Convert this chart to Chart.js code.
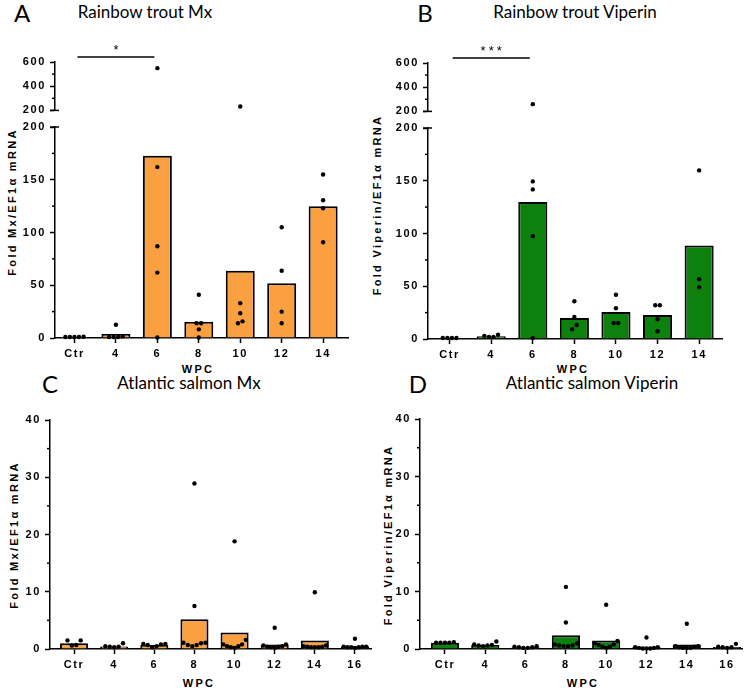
<!DOCTYPE html>
<html>
<head>
<meta charset="utf-8">
<script src="https://cdn.jsdelivr.net/npm/chart.js@4.4.1/dist/chart.umd.min.js"></script>
<style>
  body { margin: 0; background: #fff; }
  #page { position: relative; width: 750px; height: 690px; overflow: hidden; background: #fff; }
  .box { position: absolute; }
  .box canvas { letter-spacing: 1.6px; }
  .txt { position: absolute; white-space: nowrap; transform: translate(-50%, -50%); color: #000; }
  .letter { font: 24px Lato, sans-serif; }
  .title { font: 17px Lato, sans-serif; }
  .wpc { font: bold 11px 'Liberation Sans', Arial, sans-serif; letter-spacing: 2.3px; }
  .ytitle { position: absolute; white-space: nowrap; color: #000;
            font: bold 11px 'Liberation Sans', Arial, sans-serif; letter-spacing: 2.3px;
            transform: translate(-50%, -50%) rotate(-90deg); }
</style>
</head>
<body>
<div id="page">
  <div class="txt letter" style="left:22px;top:12px">A</div>
  <div class="txt title" style="left:145px;top:11px">Rainbow trout Mx</div>
  <div class="txt letter" style="left:425px;top:12px">B</div>
  <div class="txt title" style="left:575px;top:11px">Rainbow trout Viperin</div>
  <div class="txt letter" style="left:50px;top:383px">C</div>
  <div class="txt title" style="left:189px;top:382px">Atlantic salmon Mx</div>
  <div class="txt letter" style="left:418px;top:383px">D</div>
  <div class="txt title" style="left:592px;top:382px">Atlantic salmon Viperin</div>

  <div class="ytitle" style="left:12px;top:202px">Fold Mx/EF1α mRNA</div>
  <div class="ytitle" style="left:377px;top:205px">Fold Viperin/EF1α mRNA</div>
  <div class="ytitle" style="left:14px;top:535px">Fold Mx/EF1α mRNA</div>
  <div class="ytitle" style="left:388px;top:535px">Fold Viperin/EF1α mRNA</div>

  <div class="txt wpc" style="left:198px;top:369px">WPC</div>
  <div class="txt wpc" style="left:573px;top:369px">WPC</div>
  <div class="txt wpc" style="left:199px;top:683px">WPC</div>
  <div class="txt wpc" style="left:583px;top:683px">WPC</div>

  <div class="box" id="a1"></div>
  <div class="box" id="a2"></div>
  <div class="box" id="b1"></div>
  <div class="box" id="b2"></div>
  <div class="box" id="c"></div>
  <div class="box" id="d"></div>
</div>

<script>
// weeks post challenge
const troutWeeks = ['Ctr', '4', '6', '8', '10', '12', '14'];
const salmonWeeks = ['Ctr', '4', '6', '8', '10', '12', '14', '16'];

// bars = group mean, dots = single fish
const troutMxBars = [1, 3.8, 172.8, 15.5, 63.8, 52, 124.8];
const troutMxDots = [
  [1.2, 1, 0.9, 1, 0.9],
  [12.5, 1.5, 1, 1, 1],
  [549, 162, 87, 62, 0.5],
  [41, 14, 14, 8.2, 0.5],
  [232, 33, 23.4, 15.8, 14],
  [105, 63.8, 25, 14],
  [155, 130.5, 123, 90.7]
];

const troutViperinBars = [1, 2.5, 129.8, 20, 25.6, 22.8, 88.6];
const troutViperinDots = [
  [1, 1, 1, 1],
  [4, 2, 2, 3],
  [260, 149.4, 141.8, 97.5, 1],
  [35.8, 20.9, 13.3, 9.2],
  [42, 29.1, 15.2, 15.2],
  [32, 32, 18.7, 7.3],
  [159.8, 56.7, 49]
];

const salmonMxBars = [1.0, 0.45, 0.7, 5.2, 2.9, 0.8, 1.5, 0.5];
const salmonMxDots = [
  [1.5, 1.5, 0.7, 0.6],
  [1.0, 0.5, 0.4, 0.4, 0.3],
  [0.9, 0.9, 0.8, 0.7, 0.5, 0.3],
  [28.9, 7.5, 1.1, 1.1, 1.0, 0.7, 0.5, 0.7],
  [18.8, 1.6, 0.8, 0.5, 0.3, 0.2, 0.5, 0.8],
  [3.7, 0.8, 0.6, 0.5, 0.4, 0.4, 0.3, 0.2],
  [9.9, 0.6, 0.4, 0.3, 0.3, 0.3, 0.4, 0.5],
  [1.8, 0.4, 0.4, 0.4, 0.3, 0.3, 0.3, 0.2]
];

const salmonViperinBars = [1.1, 0.7, 0.3, 2.4, 1.5, 0.4, 0.8, 0.35];
const salmonViperinDots = [
  [1.1, 1.1, 1.1, 1.1, 1.2],
  [1.3, 0.8, 0.6, 0.6, 0.7, 0.5],
  [0.5, 0.4, 0.3, 0.3, 0.2, 0.2],
  [10.8, 4.6, 0.8, 0.6, 0.5, 0.5, 0.6, 1.0],
  [7.7, 1.4, 1.0, 0.7, 0.4, 0.4, 0.8, 0.2],
  [2.0, 0.3, 0.3, 0.2, 0.2, 0.1, 0.1, 0.1],
  [4.4, 0.5, 0.5, 0.4, 0.3, 0.2, 0.2, 0.2],
  [0.9, 0.4, 0.3, 0.3, 0.2]
];

const ORANGE = '#FBA040';
const GREEN = '#0E800E';
const FONT = "'Liberation Sans', Arial, sans-serif";

// spread dots that sit on nearly the same value side by side,
// lowest in the middle (like a little U, the way Prism does it)
function dotsFor(groups, keep, thr) {
  const pts = [];
  groups.forEach((vals, i) => {
    const sorted = vals.filter(keep).sort((a, b) => a - b);
    let run = [];
    const flush = () => {
      const n = run.length;
      const step = n > 1 ? Math.min(0.11, 0.56 / (n - 1)) : 0;
      const offs = run.map((_, k) => (k - (n - 1) / 2) * step)
        .sort((a, b) => Math.abs(a) - Math.abs(b) || a - b);
      run.forEach((v, k) => pts.push({ x: i + offs[k], y: v }));
      run = [];
    };
    sorted.forEach(v => {
      if (run.length && v - run[run.length - 1] > thr) flush();
      run.push(v);
    });
    flush();
  });
  return pts;
}

function line(ctx, x1, y1, x2, y2) {
  ctx.beginPath();
  ctx.moveTo(x1, y1);
  ctx.lineTo(x2, y2);
  ctx.stroke();
}

function drawPanel(id, p) {
  const yw = 45, pr = 8;
  const pt = p.padTop || 12;
  const xh = p.showX ? 26 : 0;
  const pb = p.showX ? 0 : 6;
  const box = document.getElementById(id);
  box.style.left = (p.area.l - yw) + 'px';
  box.style.top = (p.area.t - pt) + 'px';
  box.style.width = (p.area.r + pr - p.area.l + yw) + 'px';
  box.style.height = (pt + p.area.b - p.area.t + xh + pb) + 'px';
  const canvas = document.createElement('canvas');
  box.appendChild(canvas);

  const datasets = [{
    type: 'scatter',
    data: p.dots,
    order: 0,
    pointRadius: 2.2,
    pointBackgroundColor: '#000',
    pointBorderWidth: 0,
    clip: false
  }];
  if (p.bars) {
    datasets.push({
      type: 'bar',
      data: p.bars.map((v, i) => ({ x: i, y: v })),
      backgroundColor: p.color,
      borderColor: '#000',
      borderWidth: 2,
      borderSkipped: 'bottom',
      barPercentage: 0.7,
      categoryPercentage: 1,
      order: 1
    });
  }

  // minor ticks, broken-axis caps and the significance bar
  const marks = {
    id: 'marks',
    beforeDraw(chart) {
      chart.ctx.letterSpacing = '1.6px';
    },
    afterDraw(chart) {
      const ctx = chart.ctx, y = chart.scales.y, x = chart.scales.x;
      ctx.save();
      ctx.strokeStyle = '#000';
      ctx.lineWidth = 1.5;
      (p.minor || []).forEach(v => {
        const py = y.getPixelForValue(v);
        line(ctx, y.right - 3, py, y.right, py);
      });
      (p.caps || []).forEach(v => {
        const py = y.getPixelForValue(v);
        line(ctx, y.right - 5, py, y.right + 4, py);
      });
      if (p.sig) {
        const x1 = x.getPixelForValue(p.sig.from) + 3;
        const x2 = x.getPixelForValue(p.sig.to) - 3;
        const py = chart.chartArea.top - 5;
        line(ctx, x1, py, x2, py);
        ctx.letterSpacing = '3px';
        ctx.font = '13px ' + FONT;
        ctx.fillStyle = '#000';
        ctx.textAlign = 'center';
        ctx.textBaseline = 'middle';
        ctx.fillText(p.sig.text, (x1 + x2) / 2 + 1.5, py - 7);
      }
      ctx.restore();
    }
  };

  const tickFont = { family: FONT, size: 11, weight: 'bold' };
  const axisLine = { display: true, color: '#000', width: 1.5 };
  const tickGrid = { display: true, offset: false, drawOnChartArea: false, drawTicks: true, tickLength: 5, tickColor: '#000', tickWidth: 1.5 };

  new Chart(canvas, {
    type: 'bar',
    data: { datasets },
    options: {
      responsive: true,
      maintainAspectRatio: false,
      animation: false,
      events: [],
      layout: { padding: { top: pt, right: pr, bottom: pb, left: 0 } },
      plugins: { legend: { display: false }, tooltip: { enabled: false } },
      scales: {
        x: {
          type: 'linear',
          offset: false,
          min: p.xRange[0],
          max: p.xRange[1],
          display: !!p.showX,
          afterBuildTicks: s => { s.ticks = p.labels.map((_, i) => ({ value: i })); },
          afterFit: s => { s.height = xh; },
          grid: tickGrid,
          border: axisLine,
          ticks: { callback: (v, i) => p.labels[i], color: '#000', font: tickFont, padding: 4, maxRotation: 0, autoSkip: false }
        },
        y: {
          min: p.y.min,
          max: p.y.max,
          afterFit: s => { s.width = yw; },
          grid: tickGrid,
          border: axisLine,
          ticks: { stepSize: p.y.step, color: '#000', font: tickFont, padding: 4 }
        }
      }
    },
    plugins: [marks]
  });
}

const high = v => v > 200;
const low = v => v <= 200;

// A: Rainbow trout Mx (broken axis)
drawPanel('a1', {
  area: { l: 55, r: 348, t: 62, b: 115 }, padTop: 26,
  labels: troutWeeks, xRange: [-0.47, 6.6],
  dots: dotsFor(troutMxDots, high, 12),
  y: { min: 200, max: 600, step: 200 }, minor: [300, 500], caps: [200],
  sig: { from: 0, to: 2, text: '*' }
});
drawPanel('a2', {
  area: { l: 55, r: 348, t: 127, b: 338 }, showX: true,
  labels: troutWeeks, xRange: [-0.47, 6.6],
  bars: troutMxBars, color: ORANGE,
  dots: dotsFor(troutMxDots, low, 5),
  y: { min: 0, max: 200, step: 50 }, minor: [25, 75, 125, 175], caps: [200]
});

// B: Rainbow trout Viperin (broken axis)
drawPanel('b1', {
  area: { l: 428, r: 722, t: 63, b: 116 }, padTop: 26,
  labels: troutWeeks, xRange: [-0.52, 6.55],
  dots: dotsFor(troutViperinDots, high, 12),
  y: { min: 200, max: 600, step: 200 }, minor: [300, 500], caps: [200],
  sig: { from: 0, to: 2, text: '***' }
});
drawPanel('b2', {
  area: { l: 428, r: 722, t: 128, b: 339 }, showX: true,
  labels: troutWeeks, xRange: [-0.52, 6.55],
  bars: troutViperinBars, color: GREEN,
  dots: dotsFor(troutViperinDots, low, 5),
  y: { min: 0, max: 200, step: 50 }, minor: [25, 75, 125, 175], caps: [200]
});

// C: Atlantic salmon Mx
drawPanel('c', {
  area: { l: 50, r: 371, t: 420, b: 649 }, showX: true,
  labels: salmonWeeks, xRange: [-0.6, 7.4],
  bars: salmonMxBars, color: ORANGE,
  dots: dotsFor(salmonMxDots, () => true, 1.0),
  y: { min: 0, max: 40, step: 10 }, minor: [5, 15, 25, 35]
});

// D: Atlantic salmon Viperin
drawPanel('d', {
  area: { l: 420, r: 742, t: 419, b: 649 }, showX: true,
  labels: salmonWeeks, xRange: [-0.62, 7.37],
  bars: salmonViperinBars, color: GREEN,
  dots: dotsFor(salmonViperinDots, () => true, 1.0),
  y: { min: 0, max: 40, step: 10 }, minor: [5, 15, 25, 35]
});
</script>
</body>
</html>
